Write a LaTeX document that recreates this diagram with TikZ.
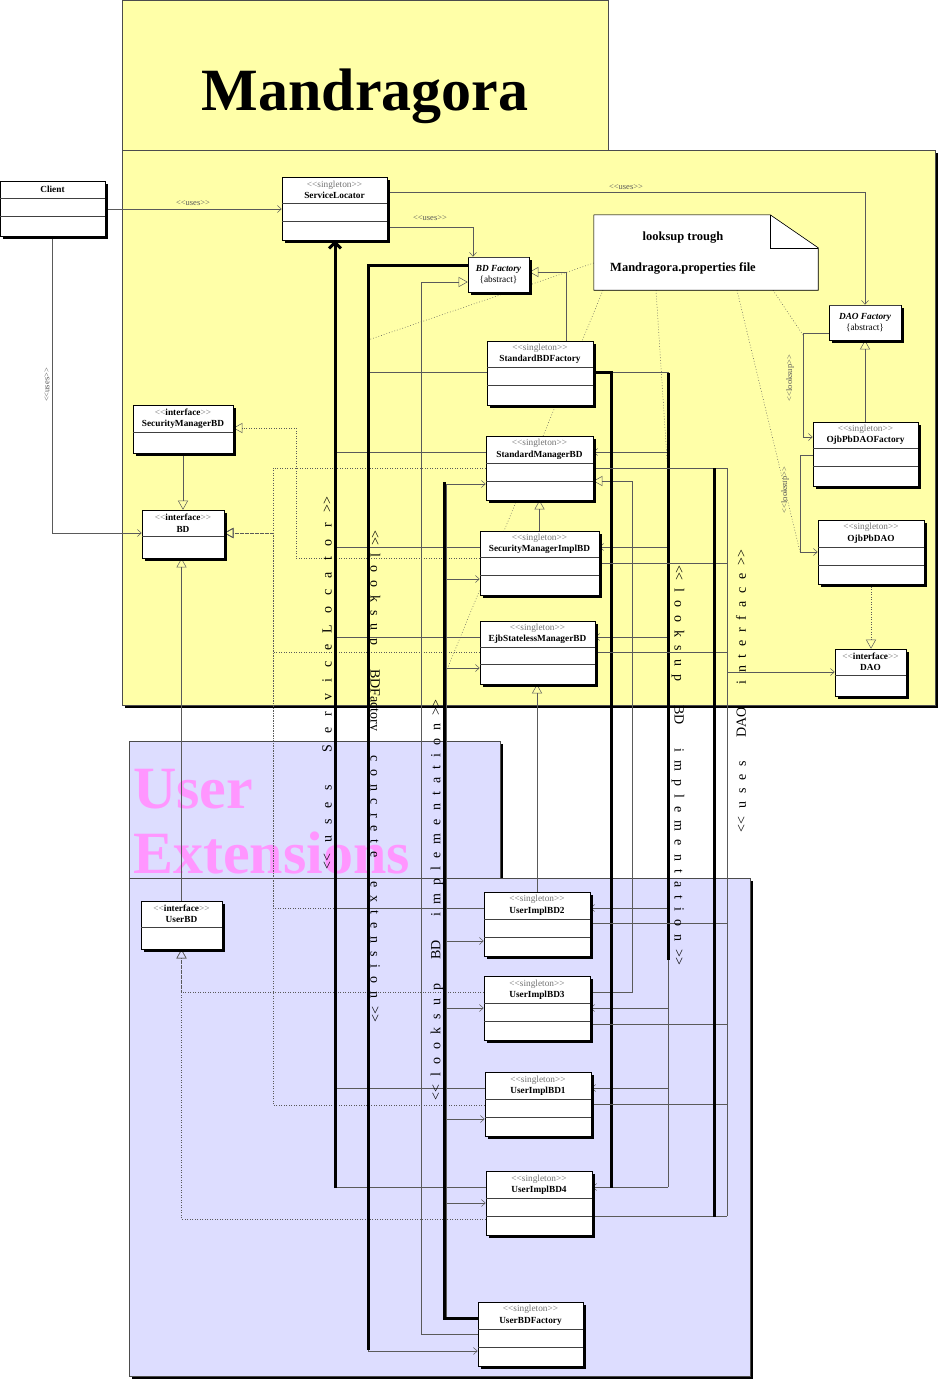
\documentclass[tikz,border=0pt]{standalone}
\usepackage{fontspec}
\setmainfont{Liberation Serif}
\usetikzlibrary{arrows.meta,fit,calc}
\definecolor{pkgyellow}{RGB}{255,255,168}
\definecolor{pkglav}{RGB}{221,221,255}
\definecolor{pinkc}{RGB}{255,150,255}
\definecolor{wirec}{RGB}{90,90,90}
\newcommand{\stl}{<\kern0pt<}
\newcommand{\stg}{>\kern0pt>}
\newcommand{\sgl}{{\color{black!55}\stl singleton\stg}}
\newcommand{\ifc}{{\color{black!55}\stl}\textbf{interface}{\color{black!55}\stg}}
\newcommand{\umlclass}[8]{%
  \fill[black] (#2+3,#3+3) rectangle (#4+3,#5+3);
  \node[clsbox, fit={(#2,#3)(#4,#5)}] (#1) {};
  \foreach \yy in {#7} {\draw[compline] (#2,\yy) -- (#4,\yy);}
  \node[clshead] at (#1.center |- 0,#8) {#6};
}
\pgfdeclarelayer{pkg}
\pgfdeclarelayer{wires}
\pgfsetlayers{pkg,wires,main}
\begin{document}
\begin{tikzpicture}[x=1pt,y=-1pt,
  wire/.style={draw=wirec, line width=0.5pt},
  dep/.style={wire, -{Straight Barb[length=4pt,width=7pt]}},
  gen/.style={wire, -{Triangle[open,length=9pt,width=10pt]}},
  real/.style={gen, dash pattern=on 1pt off 1.5pt},
  notel/.style={wire, dash pattern=on 0.8pt off 2pt},
  thickl/.style={draw=black, line width=3pt},
  clsbox/.style={draw=black, fill=white, line width=0.6pt, inner sep=0pt},
  compline/.style={draw=black!75, line width=0.8pt},
  clshead/.style={align=center, inner sep=0pt, font=\fontsize{9.3}{11.5}\selectfont},
  lbl/.style={inner sep=0pt, text=black!65, font=\fontsize{8.5}{8.5}\selectfont},
  biglbl/.style={inner sep=0pt, font=\fontsize{14}{14}\selectfont},
  notetxt/.style={font=\fontsize{12.5}{12.5}\selectfont\bfseries, inner sep=0pt},
  pinkt/.style={text=pinkc, font=\fontsize{60}{60}\selectfont\bfseries, inner sep=0pt},
  pkgbox/.style={draw=black!70, line width=0.6pt}
]
\useasboundingbox (0,0) rectangle (938,1379);

% ---------- packages ----------
\begin{pgfonlayer}{pkg}
  \fill[white] (0,0) rectangle (938,1379);
  \fill[black] (125,153) rectangle (938,708);
  \filldraw[pkgbox, fill=pkgyellow] (122,0) rectangle (608,150);
  \filldraw[pkgbox, fill=pkgyellow] (122,150) rectangle (935,705);
  \node[font=\fontsize{60}{60}\selectfont\bfseries, anchor=base, inner sep=0pt] (mtitle) at (365,110) {Mandragora};
  \fill[black] (132,744) rectangle (503,880);
  \fill[black] (132,881) rectangle (753,1381);
  \filldraw[pkgbox, fill=pkglav] (129,741) rectangle (500,878);
  \filldraw[pkgbox, fill=pkglav] (129,878) rectangle (750,1376);
  \node[pinkt, anchor=base west] (utitle1) at (133,808) {User};
  \node[pinkt, anchor=base west] (utitle2) at (133,873) {Extensions};
\end{pgfonlayer}

% ---------- classes ----------
\umlclass{client}{0}{181}{105}{236}{\textbf{Client}}{198,216}{189.5}
\umlclass{sl}{282}{177}{387}{240}{\sgl\\\textbf{ServiceLocator}}{203,221}{190}
\umlclass{bdf}{468}{257}{529}{292}{\textbf{\itshape BD Factory}\\\{abstract\}}{257}{274.5}
\umlclass{daof}{829}{305}{901}{340}{\textbf{\itshape DAO Factory}\\\{abstract\}}{305}{322.5}
\umlclass{sbdf}{487}{341}{593}{405}{\sgl\\\textbf{StandardBDFactory}}{367,385}{354}
\umlclass{smbd}{133}{405}{233}{453}{\ifc\\\textbf{SecurityManagerBD}}{432}{418.5}
\umlclass{stdm}{486}{436}{593}{500}{\sgl\\\textbf{StandardManagerBD}}{463,481}{449.5}
\umlclass{ojbf}{813}{422}{918}{486}{\sgl\\\textbf{OjbPbDAOFactory}}{448,466}{435}
\umlclass{bd}{142}{510}{224}{558}{\ifc\\\textbf{BD}}{536}{523}
\umlclass{smi}{480}{531}{599}{595}{\sgl\\\textbf{SecurityManagerImplBD}}{557,575}{544}
\umlclass{ojbdao}{818}{520}{924}{584}{\sgl\\\textbf{OjbPbDAO}}{547,565}{533.5}
\umlclass{ejb}{480}{621}{595}{684}{\sgl\\\textbf{EjbStatelessManagerBD}}{647,664}{634}
\umlclass{dao}{835}{649}{906}{696}{\ifc\\\textbf{DAO}}{675}{662}
\umlclass{ubd}{141}{901}{222}{949}{\ifc\\\textbf{UserBD}}{927}{914}
\umlclass{u2}{484}{892}{590}{956}{\sgl\\\textbf{UserImplBD2}}{919,937}{905.5}
\umlclass{u3}{484}{976}{590}{1040}{\sgl\\\textbf{UserImplBD3}}{1003,1021}{989.5}
\umlclass{u1}{485}{1072}{591}{1136}{\sgl\\\textbf{UserImplBD1}}{1099,1117}{1085.5}
\umlclass{u4}{486}{1171}{592}{1235}{\sgl\\\textbf{UserImplBD4}}{1198,1216}{1184.5}
\umlclass{ubf}{478}{1302}{583}{1366}{\sgl\\\textbf{UserBDFactory}}{1329,1347}{1315.5}

% ---------- note ----------
\node[fit={(594,215)(818,290)}, inner sep=0pt] (note) {};
\fill[black, shift={(3,3)}] (note.north west) -- ($(note.north east)+(-48,0)$) -- ($(note.north east)+(0,33)$) -- (note.south east) -- (note.south west) -- cycle;
\filldraw[draw=black, fill=white, line width=0.6pt] (note.north west) -- ($(note.north east)+(-48,0)$) -- ($(note.north east)+(0,33)$) -- (note.south east) -- (note.south west) -- cycle;
\draw[black, line width=0.6pt] ($(note.north east)+(-48,0)$) -- ($(note.north east)+(-48,33)$) -- ($(note.north east)+(0,33)$);
\node[notetxt] (nt1) at (683,238) {looksup trough};
\node[notetxt] (nt2) at (683,268) {Mandragora.properties file};

% ---------- connectors ----------
\begin{pgfonlayer}{wires}
  % note links
  \draw[notel] (note.west |- 0,263) -- (368,340);
  \draw[notel] (note.south -| 603,0) -- (446,672);
  \draw[notel] (note.south -| 656,0) -- (668,475);
  \draw[notel] (note.south -| 737,0) -- (800,552);
  \draw[notel] (note.south -| 773,0) -- (803,335);
  % client uses
  \draw[dep] (client.east |- 0,209) -- (sl.west |- 0,209);
  \draw[dep] (client.south -| 52,0) -- (52,533) -- (bd.west |- 0,533);
  % service locator uses
  \draw[dep] (sl.east |- 0,192) -| (daof.north);
  \draw[dep] (sl.east |- 0,227) -| (bdf.north -| 473,0);
  % generalizations
  \draw[gen] (sbdf.north -| 566,0) |- (bdf.east |- 0,272);
  \draw[gen] (ubf.west |- 0,1334) -| (421,282) -- (bdf.west |- 0,282);
  \draw[gen] (ojbf.north -| daof.south) -- (daof.south);
  \draw[gen] (smbd.south -| bd.north) -- (bd.north);
  \draw[gen] (ubd.north) -- (ubd.north |- bd.south);
  \draw[gen] (smi.north) -- (smi.north |- stdm.south);
  \draw[gen] (u2.north) -- (u2.north |- ejb.south);
  \draw[gen] (u3.east |- 0,992) -- (632,992) |- (stdm.east |- 0,481);
  % DAO factory lookups
  \draw[dep] (daof.west |- 0,333) -- (803,333) |- (ojbf.west |- 0,437);
  \draw[dep] (ojbf.west |- 0,455) -- (800,455) |- (ojbdao.west |- 0,552);
  \draw[real] (ojbdao.south -| 871,0) -- (dao.north -| 871,0);
  % realizations
  \foreach \n/\yy in {stdm/468, ejb/652, u2/908, u1/1105}
    \draw[real] (\n.west |- 0,\yy) -- (273,\yy) |- (bd.east |- 0,533);
  \draw[real] (smi.west |- 0,558) -- (296,558) |- (smbd.east |- 0,428);
  \draw[real] (u3.west |- 0,992) -| (ubd.south);
  \draw[real] (u4.west |- 0,1219) -| (ubd.south);
  % uses ServiceLocator
  \foreach \n/\yy in {stdm/452, smi/547, ejb/637, u2/908, u1/1088, u4/1187}
    \draw[wire] (\n.west |- 0,\yy) -- (336,\yy);
  \draw[wire] (336,1188) -- (sl.south -| 336,0);
  \draw[thickl, -{Straight Barb[length=6pt,width=12pt]}] (335,1188) -- (sl.south -| 335,0);
  % lookup BDFactory concrete extension
  \draw[wire] (bdf.west |- 0,265) -- (368,265) |- (sbdf.west |- 0,372);
  \draw[dep] (368,372) |- (ubf.west |- 0,1351);
  \draw[thickl] (bdf.west |- 0,265) -- (368,265) -- (368,1350);
  % lookup BD implementation (StandardBDFactory)
  \draw[wire] (sbdf.east |- 0,372) -- (668,372) -- (668,1187);
  \foreach \n/\yy in {stdm/452, smi/547, ejb/637, u2/908, u3/1008, u1/1088, u4/1187}
    \draw[dep] (668,\yy) -- (\n.east |- 0,\yy);
  \draw[thickl] (sbdf.east |- 0,372) -- (611,372) -- (611,1188);
  \draw[thickl] (668,373) -- (668,960);
  % lookup BD implementation (UserBDFactory)
  \draw[wire] (ubf.west |- 0,1318) -- (446,1318) -- (446,484);
  \foreach \n/\yy in {stdm/484, smi/579, ejb/668, u2/941, u3/1008, u1/1119, u4/1203}
    \draw[dep] (446,\yy) -- (\n.west |- 0,\yy);
  \draw[thickl] (ubf.west |- 0,1318) -- (444,1318) -- (444,482);
  % uses DAO interface
  \foreach \n/\yy in {stdm/468, smi/563, ejb/652, u2/923, u3/1024, u1/1104, u4/1216}
    \draw[wire] (\n.east |- 0,\yy) -- (727,\yy);
  \draw[wire] (727,468) -- (727,1216);
  \draw[dep] (727,672) -- (dao.west |- 0,672);
  \draw[thickl] (714,468) -- (714,1217);
\end{pgfonlayer}

% ---------- labels ----------
\node[lbl] (l1) at (193,203) {\stl uses\stg};
\node[lbl, rotate=90] (l2) at (47,385) {\stl uses\stg};
\node[lbl] (l3) at (626,187) {\stl uses\stg};
\node[lbl] (l4) at (430,218) {\stl uses\stg};
\node[lbl, rotate=90] (l5) at (790,378) {\stl looksup\stg};
\node[lbl, rotate=90] (l6) at (785,490) {\stl looksup\stg};

\node[biglbl, rotate=90] (b1) at (327,683) {\makebox[373pt][s]{\stl{} u s e s\ \ \ S e r v i c e L o c a t o r \stg}};
\node[biglbl, rotate=-90] (b2) at (374,776) {\makebox[492pt][s]{\stl{} l o o k s u p\ \ \ BDFactory\ \ \ c o n c r e t e\ \ \ e x t e n s i o n \stg}};
\node[biglbl, rotate=90] (b3) at (437,900) {\makebox[400pt][s]{\stl{} l o o k s u p\ \ \ BD\ \ \ i m p l e m e n t a t i o n \stg}};
\node[biglbl, rotate=-90] (b4) at (678,765) {\makebox[400pt][s]{\stl{} l o o k s u p\ \ \ BD\ \ \ i m p l e m e n t a t i o n \stg}};
\node[biglbl, rotate=90] (b5) at (741,691) {\makebox[282pt][s]{\stl{} u s e s\ \ \ DAO\ \ \ i n t e r f a c e \stg}};
\end{tikzpicture}
\end{document}
